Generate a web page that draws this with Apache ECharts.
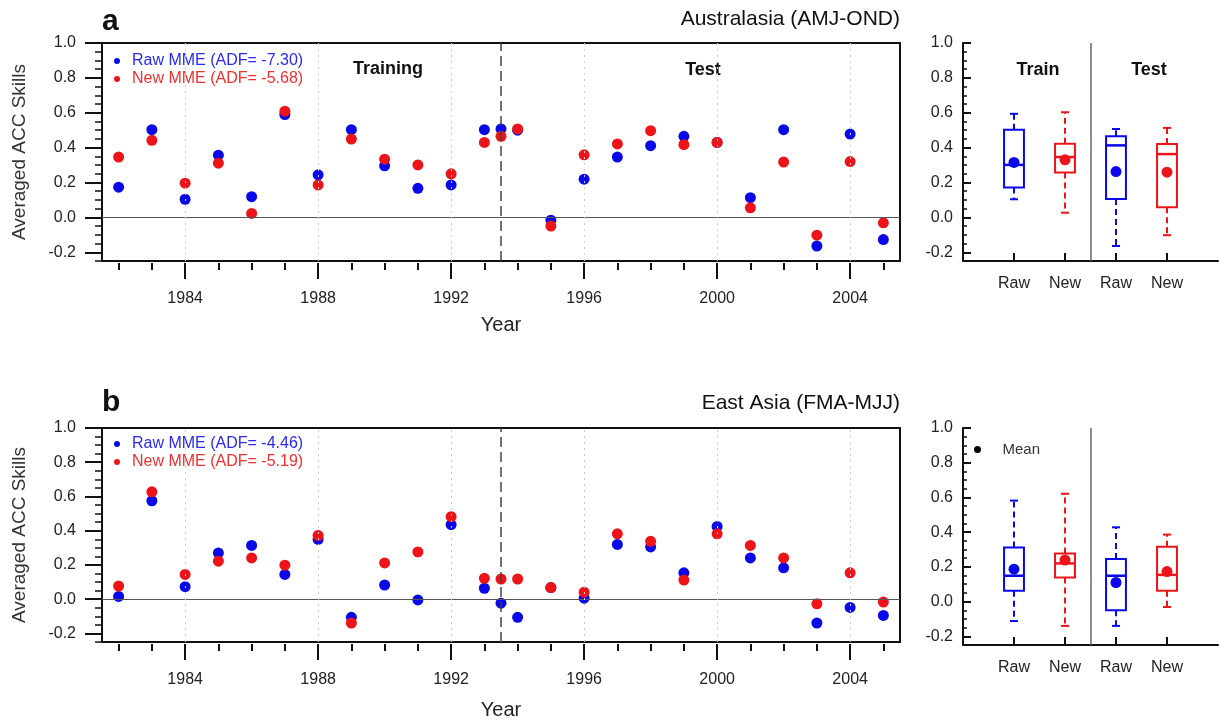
<!DOCTYPE html>
<html>
<head>
<meta charset="utf-8">
<script src="https://cdn.jsdelivr.net/npm/echarts@6/dist/echarts.min.js"></script>
<style>
  html, body { margin: 0; padding: 0; background: #fff; }
  #main { width: 1221px; height: 721px; }
</style>
</head>
<body>
<div id="main"></div>
<script>
// years of the scatter points (one extra point sits on the split line)
const years = [1982, 1983, 1984, 1985, 1986, 1987, 1988, 1989, 1990, 1991, 1992, 1993,
  1993.5, 1994, 1995, 1996, 1997, 1998, 1999, 2000, 2001, 2002, 2003, 2004, 2005];

// panel a, Australasia (AMJ-OND)
const rawA = [0.173, 0.503, 0.104, 0.357, 0.119, 0.590, 0.244, 0.503, 0.296, 0.167, 0.186, 0.503,
  0.507, 0.500, -0.016, 0.219, 0.346, 0.411, 0.465, 0.430, 0.113, 0.503, -0.164, 0.478, -0.127];
const newA = [0.346, 0.442, 0.196, 0.311, 0.023, 0.609, 0.186, 0.449, 0.334, 0.301, 0.250, 0.430,
  0.465, 0.507, -0.050, 0.359, 0.421, 0.497, 0.417, 0.430, 0.055, 0.317, -0.102, 0.320, -0.031];

// panel b, East Asia (FMA-MJJ)
const rawB = [0.016, 0.575, 0.073, 0.270, 0.314, 0.145, 0.349, -0.106, 0.083, -0.004, 0.436, 0.064,
  -0.023, -0.106, 0.068, 0.006, 0.320, 0.305, 0.154, 0.425, 0.241, 0.183, -0.139, -0.048, -0.095];
const newB = [0.077, 0.627, 0.145, 0.222, 0.241, 0.199, 0.372, -0.139, 0.212, 0.276, 0.482, 0.122,
  0.118, 0.118, 0.068, 0.041, 0.382, 0.338, 0.112, 0.382, 0.314, 0.241, -0.027, 0.154, -0.017];

// box plots: [min, q1, median, q3, max] for Raw/New in Train and Test
const boxLabels = ['Raw', 'New', 'Raw', 'New'];
const boxA = [
  [0.104, 0.171, 0.301, 0.503, 0.594],
  [0.027, 0.257, 0.346, 0.422, 0.603],
  [-0.164, 0.105, 0.413, 0.465, 0.507],
  [-0.102, 0.058, 0.363, 0.421, 0.513]
];
const meanA = [0.315, 0.330, 0.263, 0.259];
const boxB = [
  [-0.112, 0.062, 0.149, 0.312, 0.582],
  [-0.140, 0.139, 0.220, 0.277, 0.621],
  [-0.140, -0.050, 0.149, 0.245, 0.428],
  [-0.031, 0.062, 0.154, 0.316, 0.386]
];
const meanB = [0.187, 0.239, 0.110, 0.173];

// ticks
const yearLabels = [1984, 1988, 1992, 1996, 2000, 2004];
const yearTicks = [1982, 1983, 1984, 1985, 1986, 1987, 1988, 1989, 1990, 1991, 1992, 1993,
  1994, 1995, 1996, 1997, 1998, 1999, 2000, 2001, 2002, 2003, 2004, 2005];
const yLabels = [-0.2, 0, 0.2, 0.4, 0.6, 0.8, 1.0];
const yMinorTicks = [-0.25, -0.2, -0.15, -0.1, -0.05, 0, 0.05, 0.1, 0.15, 0.2, 0.25, 0.3, 0.35,
  0.4, 0.45, 0.5, 0.55, 0.6, 0.65, 0.7, 0.75, 0.8, 0.85, 0.9, 0.95, 1.0];
const splitYear = 1993.5;

const BLUE = '#0808e8';
const RED = '#ec1418';
const boxColors = [BLUE, RED, BLUE, RED];
const FONT = 'Liberation Sans, Arial, Helvetica, sans-serif';

const chart = echarts.init(document.getElementById('main'));

function yearAxes(gridIndex, nameGap) {
  return [{
    type: 'value', gridIndex, position: 'bottom', min: 1981.5, max: 2005.5, offset: 2,
    axisLine: { show: false, onZero: false },
    axisTick: { customValues: yearLabels, length: 16, lineStyle: { color: '#111', width: 2 } },
    axisLabel: { customValues: yearLabels, margin: 28, fontSize: 16, color: '#222',
      formatter: v => String(v) },
    splitLine: { show: false },
    name: 'Year', nameLocation: 'middle', nameGap,
    nameTextStyle: { fontSize: 20, color: '#222' }
  }, {
    type: 'value', gridIndex, position: 'bottom', min: 1981.5, max: 2005.5, offset: 2,
    axisLine: { show: false, onZero: false },
    axisTick: { customValues: yearTicks, length: 7, lineStyle: { color: '#111', width: 2 } },
    axisLabel: { show: false },
    splitLine: { show: false }
  }];
}

function skillAxes(gridIndex) {
  return [{
    type: 'value', gridIndex, position: 'left', min: -0.25, max: 1.0,
    axisLine: { show: false, onZero: false },
    axisTick: { customValues: yLabels, length: 17, lineStyle: { color: '#111', width: 2 } },
    axisLabel: { customValues: yLabels, margin: 26, fontSize: 16, color: '#222',
      formatter: v => v.toFixed(1) },
    splitLine: { show: false },
    name: 'Averaged ACC Skills', nameLocation: 'middle', nameGap: 73,
    nameTextStyle: { fontSize: 19, color: '#333' }
  }, {
    type: 'value', gridIndex, position: 'left', min: -0.25, max: 1.0,
    axisLine: { show: false, onZero: false },
    axisTick: { customValues: yMinorTicks, length: 7, lineStyle: { color: '#111', width: 1.5 } },
    axisLabel: { show: false },
    splitLine: { show: false }
  }];
}

function boxXAxis(gridIndex) {
  return {
    type: 'value', gridIndex, position: 'bottom', min: 0, max: 5,
    axisLine: { show: true, onZero: false, lineStyle: { color: '#111', width: 2 } },
    axisTick: { inside: true, customValues: [1, 2, 3, 4], length: 8, lineStyle: { color: '#111', width: 2 } },
    axisLabel: { customValues: [1, 2, 3, 4], margin: 15, fontSize: 16, color: '#222',
      formatter: v => boxLabels[v - 1] },
    splitLine: { show: false }
  };
}

function boxYAxes(gridIndex) {
  return [{
    type: 'value', gridIndex, position: 'left', min: -0.25, max: 1.0,
    axisLine: { show: true, onZero: false, lineStyle: { color: '#111', width: 2 } },
    axisTick: { inside: true, customValues: yLabels, length: 8, lineStyle: { color: '#111', width: 2 } },
    axisLabel: { customValues: yLabels, margin: 10, fontSize: 16, color: '#222',
      formatter: v => v.toFixed(1) },
    splitLine: { show: false }
  }, {
    type: 'value', gridIndex, position: 'left', min: -0.25, max: 1.0,
    axisLine: { show: false, onZero: false },
    axisTick: { inside: true, customValues: yMinorTicks, length: 4, lineStyle: { color: '#111', width: 1.5 } },
    axisLabel: { show: false },
    splitLine: { show: false }
  }];
}

function refLines() {
  return {
    silent: true, symbol: 'none', label: { show: false }, animation: false,
    data: [
      { yAxis: 0, lineStyle: { color: '#555', width: 1.2, type: 'solid' } },
      { xAxis: splitYear, lineStyle: { color: '#444', width: 1.5, type: [10, 5] } }
    ].concat(yearLabels.map(v => ({ xAxis: v, lineStyle: { color: '#ccc', width: 1, type: [2, 4] } })))
  };
}

function dots(name, xs, vals, color, xi, yi, withLines) {
  return {
    type: 'scatter', name, xAxisIndex: xi, yAxisIndex: yi,
    symbolSize: 11, itemStyle: { color, opacity: 1 },
    data: xs.map((x, i) => [x, vals[i]]),
    markLine: withLines ? refLines() : undefined
  };
}

function renderBox(params, api) {
  const x = api.value(0);
  const lo = api.coord([x, api.value(1)]);
  const q1 = api.coord([x, api.value(2)]);
  const md = api.coord([x, api.value(3)]);
  const q3 = api.coord([x, api.value(4)]);
  const hi = api.coord([x, api.value(5)]);
  const hw = api.size([0.39, 0])[0] / 2;
  const cw = 4;
  const color = boxColors[params.dataIndex];
  const px = lo[0];
  const solid = { stroke: color, lineWidth: 2, fill: null };
  const dash = { stroke: color, lineWidth: 2, lineDash: [6, 4] };
  return {
    type: 'group',
    children: [
      { type: 'line', shape: { x1: px, y1: q3[1], x2: px, y2: hi[1] }, style: dash },
      { type: 'line', shape: { x1: px, y1: q1[1], x2: px, y2: lo[1] }, style: dash },
      { type: 'line', shape: { x1: px - cw, y1: hi[1], x2: px + cw, y2: hi[1] }, style: solid },
      { type: 'line', shape: { x1: px - cw, y1: lo[1], x2: px + cw, y2: lo[1] }, style: solid },
      { type: 'rect', shape: { x: px - hw, y: q3[1], width: hw * 2, height: q1[1] - q3[1] }, style: solid },
      { type: 'line', shape: { x1: px - hw, y1: md[1], x2: px + hw, y2: md[1] }, style: { stroke: color, lineWidth: 2.5 } }
    ]
  };
}

function boxSeries(stats, xi, yi) {
  return {
    type: 'custom', xAxisIndex: xi, yAxisIndex: yi,
    renderItem: renderBox,
    encode: { x: 0, y: [1, 2, 3, 4, 5] },
    data: stats.map((b, i) => [i + 1].concat(b))
  };
}

function meanSeries(name, means, xi, yi) {
  return {
    type: 'scatter', name, xAxisIndex: xi, yAxisIndex: yi,
    symbolSize: 11, z: 5, itemStyle: { color: '#000', opacity: 1 },
    data: means.map((m, i) => ({ value: [i + 1, m], itemStyle: { color: boxColors[i], opacity: 1 } })),
    markLine: {
      silent: true, symbol: 'none', label: { show: false },
      data: [{ xAxis: 2.5, lineStyle: { color: '#666', width: 1.5, type: 'solid' } }]
    }
  };
}

const nameRawA = 'Raw MME (ADF= -7.30)';
const nameNewA = 'New MME (ADF= -5.68)';
const nameRawB = 'Raw MME (ADF= -4.46)';
const nameNewB = 'New MME (ADF= -5.19)';

function panelLegend(top, rawName, newName) {
  return {
    orient: 'vertical', left: 109, top, icon: 'circle', itemWidth: 20, itemHeight: 6,
    itemGap: 2, selectedMode: false, textStyle: { fontSize: 16 },
    data: [
      { name: rawName, textStyle: { color: '#2a2af0' } },
      { name: newName, textStyle: { color: '#f03030' } }
    ]
  };
}

function label(text, x, y, size, bold, align) {
  return {
    type: 'text', x, y, silent: true,
    style: { text, fontSize: size, fontWeight: bold ? 'bold' : 'normal', fill: '#111',
      fontFamily: FONT, textAlign: align || 'center', textVerticalAlign: 'middle' }
  };
}

chart.setOption({
  animation: false,
  backgroundColor: '#fff',
  textStyle: { fontFamily: FONT },
  grid: [
    { left: 102, top: 43, width: 798, height: 218, show: true, borderColor: '#111', borderWidth: 2, backgroundColor: 'transparent' },
    { left: 102, top: 428, width: 798, height: 217, show: true, borderColor: '#111', borderWidth: 2, backgroundColor: 'transparent' },
    { left: 963, top: 43, width: 255, height: 218 },
    { left: 963, top: 428, width: 255, height: 217 }
  ],
  xAxis: [
    ...yearAxes(0, 52),
    ...yearAxes(1, 56),
    boxXAxis(2),
    boxXAxis(3)
  ],
  yAxis: [
    ...skillAxes(0),
    ...skillAxes(1),
    ...boxYAxes(2),
    ...boxYAxes(3)
  ],
  legend: [
    panelLegend(48, nameRawA, nameNewA),
    panelLegend(431, nameRawB, nameNewB),
    {
      left: 969, top: 437, icon: 'circle', itemWidth: 40, itemHeight: 7, selectedMode: false,
      textStyle: { fontSize: 15, color: '#333' }, data: ['Mean']
    }
  ],
  graphic: [
    label('a', 102, 22, 30, true, 'left'),
    label('Australasia (AMJ-OND)', 900, 19, 21, false, 'right'),
    label('Training', 388, 69, 18, true),
    label('Test', 703, 70, 18, true),
    label('Train', 1038, 70, 18, true),
    label('Test', 1149, 70, 18, true),
    label('b', 102, 403, 30, true, 'left'),
    label('East Asia (FMA-MJJ)', 900, 403, 21, false, 'right')
  ],
  series: [
    dots(nameRawA, years, rawA, BLUE, 0, 0, true),
    dots(nameNewA, years, newA, RED, 0, 0, false),
    dots(nameRawB, years, rawB, BLUE, 2, 2, true),
    dots(nameNewB, years, newB, RED, 2, 2, false),
    boxSeries(boxA, 4, 4),
    meanSeries('Mean (a)', meanA, 4, 4),
    boxSeries(boxB, 5, 6),
    meanSeries('Mean', meanB, 5, 6)
  ]
});
</script>
</body>
</html>
